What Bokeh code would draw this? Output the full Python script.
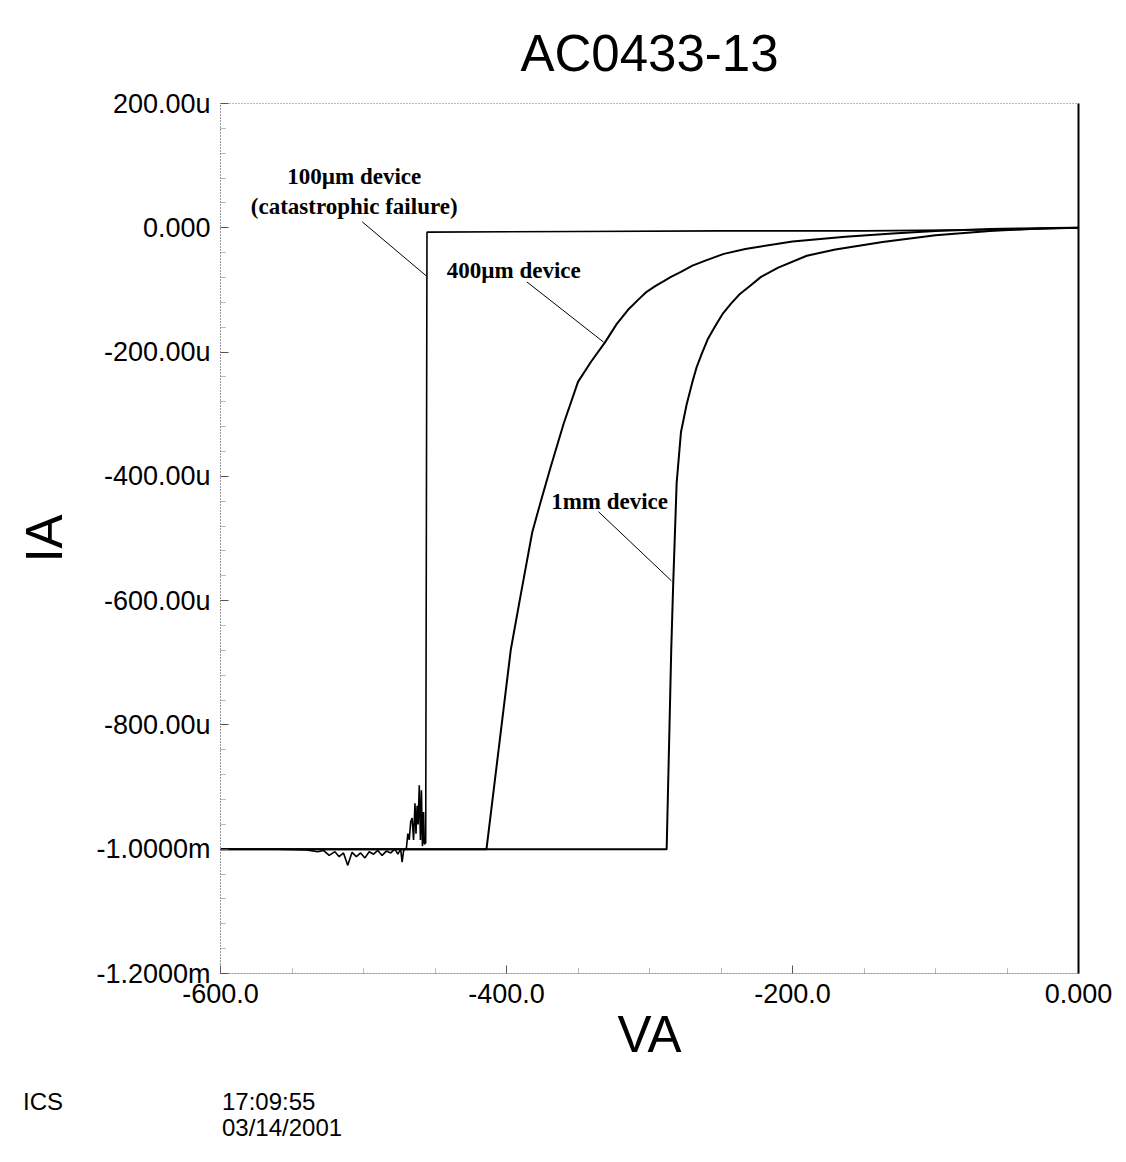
from bokeh.plotting import figure
from bokeh.layouts import column
from bokeh.models import FixedTicker, LinearAxis, Label, Range1d, Div
from bokeh.embed import file_html
from bokeh.resources import INLINE

# ---------------- data (V in volts, I in microamps) ----------------
v_100 = [0, -50, -150, -250, -350, -455.6, -456.5, -457.5, -458.0, -458.8, -459.5,
         -460.2, -461.0, -461.8, -462.5, -463.3, -464.0, -465.0, -466.0, -467.0,
         -468.0, -469.0, -470.0, -472.0, -473.0, -474.0, -476.0, -478.0, -481.0,
         -484.0, -487.0, -490.0, -493.0, -496.0, -499.0, -502.0, -505.0, -508.0,
         -511.0, -514.0, -517.0, -520.0, -524.0, -528.0, -532.0, -540.0, -560.0, -600.0]
i_100 = [0, -3, -5, -5, -6, -7, -990, -992, -940, -995, -905,
         -985, -897, -960, -930, -975, -926, -985, -950, -956,
         -985, -975, -998, -1003, -1021, -1000, -1008, -1000, -1006,
         -1003, -1010, -1002, -1008, -1004, -1014, -1006, -1012, -1005,
         -1026, -1006, -1012, -1004, -1010, -1002, -1004, -1001, -1000, -1000]

v_400 = [0, -20, -40, -62, -100, -130, -163, -200, -233, -248, -260, -270, -278,
         -285, -290, -296, -302, -308, -315, -323, -331, -341, -350, -360, -369,
         -376, -382, -390, -397, -405, -414, -450, -500, -550, -600]
i_400 = [0, -0.5, -1, -2, -5, -9, -14.5, -22, -34, -42, -52, -61, -71,
         -79, -86, -94, -103, -116, -132, -155, -184, -216, -248, -315, -384,
         -440, -490, -590, -679, -830, -1000, -1000, -1000, -1000, -1000]

v_1mm = [0, -30, -62, -100, -137, -170, -190, -210, -222, -230, -237, -243, -249,
         -254, -259, -263, -267, -270, -274, -278, -281, -283.4, -284.8, -286,
         -288, -350, -450, -600]
i_1mm = [0, -1.5, -5, -12, -23, -35, -45, -64, -79, -94, -107, -122, -139,
         -158, -178, -200, -224, -248, -284, -329, -410, -571, -679, -800,
         -1000, -1000, -1000, -1000]

x_ticks = [-600, -400, -200, 0]
x_tick_labels = ["-600.0", "-400.0", "-200.0", "0.000"]
x_minor = [-550, -500, -450, -350, -300, -250, -150, -100, -50]
y_ticks = [200, 0, -200, -400, -600, -800, -1000, -1200]
y_tick_labels = ["200.00u", "0.000", "-200.00u", "-400.00u", "-600.00u",
                 "-800.00u", "-1.0000m", "-1.2000m"]
y_minor = [v for v in range(-1200, 201, 40) if v not in y_ticks]

footer_texts = ["ICS", "17:09:55", "03/14/2001"]

FONT = "Liberation Sans"
SERIF = "Liberation Serif"

p = figure(width=1118, height=1078, output_backend="svg", toolbar_location=None,
           x_range=Range1d(-600, 0), y_range=Range1d(-1200, 200),
           min_border_left=220, min_border_top=103, min_border_right=40,
           min_border_bottom=105)
p.background_fill_color = "white"
p.border_fill_color = "white"
p.outline_line_color = "#777777"
p.outline_line_dash = "1 2"
p.grid.visible = False

p.title.text = "AC0433-13"
p.title.text_font = FONT
p.title.text_font_size = "51px"
p.title.text_font_style = "normal"
p.title.text_color = "black"
p.title.align = "center"
p.title.standoff = 44

for ax, ticks, minor, labels in ((p.xaxis[0], x_ticks, x_minor, x_tick_labels),
                                 (p.yaxis[0], y_ticks, y_minor, y_tick_labels)):
    ax.ticker = FixedTicker(ticks=ticks, minor_ticks=minor)
    ax.major_label_overrides = {t: l for t, l in zip(ticks, labels)}
    ax.major_label_text_font = FONT
    ax.major_label_text_font_size = "27px"
    ax.major_label_text_color = "black"
    ax.major_label_standoff = 10
    ax.major_tick_in = 8
    ax.major_tick_out = 0
    ax.minor_tick_in = 5
    ax.minor_tick_out = 0
    ax.major_tick_line_color = "#555555"
    ax.minor_tick_line_color = "#777777"
    ax.minor_tick_line_dash = "1 1"
    ax.axis_line_color = "#777777"
    ax.axis_line_dash = "1 2"
    ax.axis_label_text_font = FONT
    ax.axis_label_text_font_size = "51px"
    ax.axis_label_text_font_style = "normal"
    ax.axis_label_text_color = "black"

p.xaxis.axis_label = "VA"
p.xaxis.axis_label_standoff = 0
p.yaxis.axis_label = "IA"
p.yaxis.axis_label_standoff = 20

right_ax = LinearAxis(ticker=FixedTicker(ticks=[]), major_label_text_font_size="0px",
                      axis_line_color="black", axis_line_width=2,
                      major_tick_line_color=None, minor_tick_line_color=None)
p.add_layout(right_ax, "right")

# curves
p.line(v_1mm, i_1mm, line_color="black", line_width=2)
p.line(v_400, i_400, line_color="black", line_width=2)
p.line(v_100, i_100, line_color="black", line_width=1.6)

# annotations (label text, leader lines)
leaders_x0 = [-500.9, -385.8, -335.6]
leaders_y0 = [9.6, -87, -457]
leaders_x1 = [-456.3, -332.1, -284.7]
leaders_y1 = [-77, -184, -568]
p.segment(leaders_x0, leaders_y0, leaders_x1, leaders_y1, line_color="black", line_width=1)

for txt, x, y in (("100\u00b5m device", -506.5, 82),
                  ("(catastrophic failure)", -506.5, 34),
                  ("400\u00b5m device", -394.9, -69),
                  ("1mm device", -327.9, -440)):
    p.add_layout(Label(x=x, y=y, text=txt, text_font=SERIF, text_font_style="bold",
                       text_font_size="23px", text_align="center",
                       text_baseline="middle", text_color="black"))

# footer text strip below the chart
spots = [(18, 7), (217, 7), (217, 33)]
spans = "".join(
    f'<span style="position:absolute;left:{x}px;top:{y}px;white-space:nowrap">{t}</span>'
    for t, (x, y) in zip(footer_texts, spots))
footer = Div(width=1118, height=72,
             text=(f'<div style="position:relative;width:1118px;height:72px;'
                   f"font-family:'{FONT}';font-size:24px;line-height:24px;color:black\">"
                   f"{spans}</div>"))

layout = column(p, footer, spacing=0)
open("out.html", "w").write(file_html(layout, INLINE))
